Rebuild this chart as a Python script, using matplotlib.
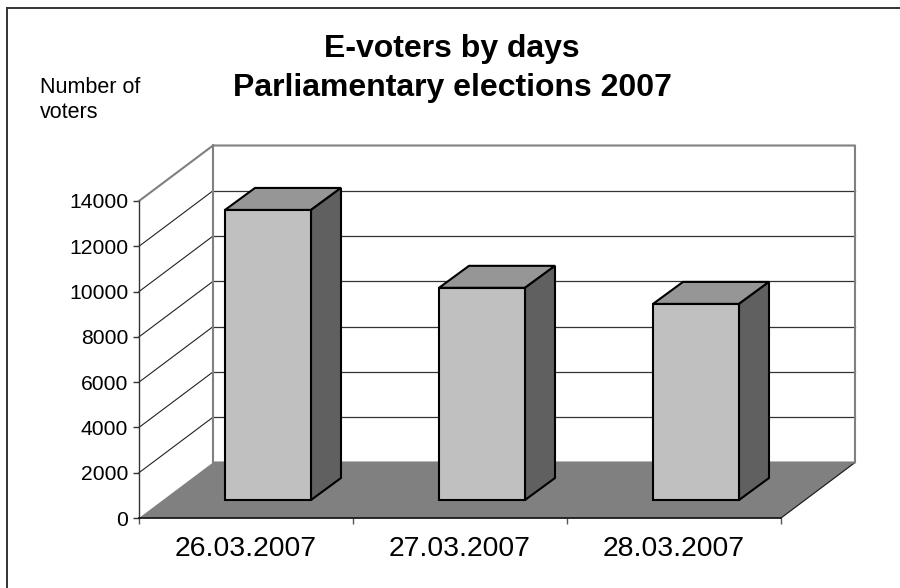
import matplotlib
matplotlib.use('Agg')
import matplotlib.pyplot as plt
from matplotlib.lines import Line2D
from matplotlib.patches import Polygon

plt.rcParams['font.family'] = ['Liberation Sans', 'DejaVu Sans']

days = ['26.03.2007', '27.03.2007', '28.03.2007']
voters = [12810, 9370, 8660]
y_ticks = [0, 2000, 4000, 6000, 8000, 10000, 12000, 14000]

W, H = 900, 588
left, right, bottom, top = 139, 781, 518, 201

fig = plt.figure(figsize=(W / 100, H / 100), dpi=100)
ax = fig.add_axes([left / W, 1 - bottom / H, (right - left) / W, (bottom - top) / H])
ax.set_xlim(0, 3)
ax.set_ylim(0, 14000)
ax.patch.set_alpha(0)

# pixel sizes of the fake 3d, turned into data units
px_x = 3 / (right - left)
px_y = 14000 / (bottom - top)
wall_dx, wall_dy = 74 * px_x, 55.5 * px_y
bar_dx, bar_dy = 30 * px_x, 22 * px_y
base_dx, base_dy = 22 * px_x, 18 * px_y
bar_w = 86 * px_x

GRAY = '#808080'

# floor
ax.add_patch(Polygon([(0, 0), (3, 0), (3 + wall_dx, wall_dy), (wall_dx, wall_dy)],
                     fc=GRAY, ec='none', clip_on=False, zorder=1))
ax.plot([3, 3 + wall_dx], [0, wall_dy], color='#222222', lw=0.9, clip_on=False, zorder=2)

# side wall and back wall
for t in y_ticks[1:-1]:
    ax.plot([0, wall_dx], [t, t + wall_dy], color='#222222', lw=0.8, clip_on=False, zorder=2)
    ax.plot([wall_dx, 3 + wall_dx], [t + wall_dy, t + wall_dy], color='#333333', lw=0.9,
            clip_on=False, zorder=2)
ax.plot([0, wall_dx, 3 + wall_dx, 3 + wall_dx, wall_dx, wall_dx],
        [14000, 14000 + wall_dy, 14000 + wall_dy, wall_dy, wall_dy, 14000 + wall_dy],
        color=GRAY, lw=1.5, clip_on=False, zorder=2)

# bars
centers = [i + 0.5 + base_dx for i in range(len(days))]
ax.bar(centers, voters, width=bar_w, bottom=base_dy, color='#C0C0C0', edgecolor='black',
       linewidth=1.5, clip_on=False, zorder=4)
for c, v in zip(centers, voters):
    x0, x1 = c - bar_w / 2, c + bar_w / 2
    y0, y1 = base_dy, base_dy + v
    ax.add_patch(Polygon([(x0, y1), (x1, y1), (x1 + bar_dx, y1 + bar_dy), (x0 + bar_dx, y1 + bar_dy)],
                         fc='#969696', ec='black', lw=1.5, joinstyle='miter', clip_on=False, zorder=3))
    ax.add_patch(Polygon([(x1, y0), (x1 + bar_dx, y0 + bar_dy), (x1 + bar_dx, y1 + bar_dy), (x1, y1)],
                         fc='#606060', ec='black', lw=1.5, joinstyle='miter', clip_on=False, zorder=3))

# axes
for s in ['top', 'right']:
    ax.spines[s].set_visible(False)
ax.spines['left'].set_color('#333333')
ax.spines['left'].set_linewidth(1.0)
ax.spines['bottom'].set_color('#1a1a1a')
ax.spines['bottom'].set_linewidth(1.3)
ax.spines['bottom'].set_zorder(5)
ax.set_yticks(y_ticks)
ax.tick_params(axis='y', labelsize=15.2, length=4.5, width=1.0, color='#333333', pad=3.2)
ax.set_xticks(range(len(days) + 1))
ax.set_xticklabels([])
ax.tick_params(axis='x', which='major', length=4.5, width=1.0, color='#555555')
ax.set_xticks([i + 0.5 for i in range(len(days))], labels=days, minor=True)
ax.tick_params(axis='x', which='minor', length=0, labelsize=20.4, pad=13)

# title and axis caption
fig.text(452 / W, 1 - 68.5 / H, 'E-voters by days\nParliamentary elections 2007', ha='center', va='center',
         fontsize=23, fontweight='bold', linespacing=1.36, color='black')
fig.text(40 / W, 1 - 100 / H, 'Number of\nvoters', ha='left', va='center', fontsize=15.5,
         linespacing=1.21, color='black')

# chart frame, only the top and left edges fall inside the picture
frame = dict(color='#333333', lw=1.4, transform=fig.transFigure)
fig.add_artist(Line2D([7 / W, 7 / W], [0, 1 - 8 / H], **frame))
fig.add_artist(Line2D([7 / W, 1], [1 - 8 / H, 1 - 8 / H], **frame))

fig.savefig('out.png', dpi=100, facecolor='white')
